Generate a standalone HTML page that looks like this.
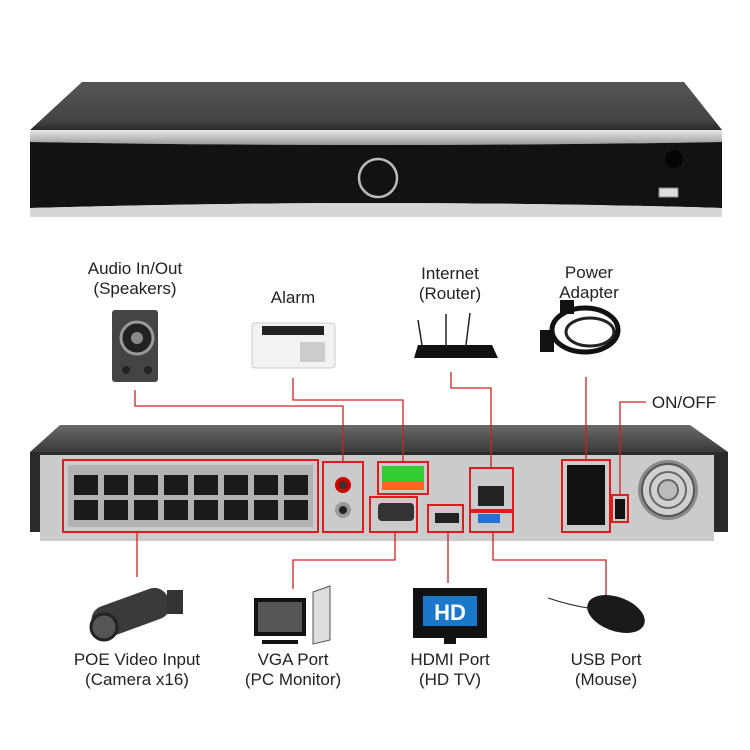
<!DOCTYPE html>
<html><head><style>
html,body{margin:0;padding:0;background:#fff;}
svg{display:block;}
text{font-family:"Liberation Sans",sans-serif;font-size:17px;fill:#222;text-anchor:middle;}
</style></head><body>
<svg width="750" height="750" viewBox="0 0 750 750" xmlns="http://www.w3.org/2000/svg">
<defs>
<linearGradient id="top" x1="0" y1="0" x2="0" y2="1"><stop offset="0" stop-color="#555"/><stop offset="0.8" stop-color="#444"/><stop offset="1" stop-color="#2a2a2a"/></linearGradient>
<linearGradient id="sil" x1="0" y1="0" x2="0" y2="1"><stop offset="0" stop-color="#e8e8e8"/><stop offset="1" stop-color="#9a9a9a"/></linearGradient>
<linearGradient id="btop" x1="0" y1="0" x2="0" y2="1"><stop offset="0" stop-color="#6a6a6a"/><stop offset="1" stop-color="#3a3a3a"/></linearGradient>
</defs>
<!-- Front NVR -->
<polygon points="82,82 684,82 722,130 30,130" fill="url(#top)"/>
<path d="M30,130 L722,130 L722,142 Q376,148 30,142 Z" fill="url(#sil)"/>
<path d="M30,142 Q376,148 722,142 L722,208 Q376,198 30,208 Z" fill="#121212"/>
<path d="M30,208 Q376,198 722,208 L722,217 L30,217 Z" fill="#d6d6d6"/>
<circle cx="378" cy="178" r="19" fill="none" stroke="#bbb" stroke-width="2.5"/>
<circle cx="674" cy="159" r="9" fill="#050505"/>
<rect x="659" y="188" width="19" height="9" fill="#ddd" stroke="#888"/>
<!-- Back NVR -->
<polygon points="60,425 690,425 728,452 30,452" fill="url(#btop)"/>
<rect x="30" y="452" width="698" height="80" fill="#2a2a2a"/>
<rect x="40" y="455" width="674" height="86" fill="#c9cbcd"/>
<rect x="68" y="465" width="245" height="62" fill="#b0b2b4"/>
<g fill="#1a1a1a">
<rect x="74" y="475" width="24" height="20"/><rect x="104" y="475" width="24" height="20"/><rect x="134" y="475" width="24" height="20"/><rect x="164" y="475" width="24" height="20"/><rect x="194" y="475" width="24" height="20"/><rect x="224" y="475" width="24" height="20"/><rect x="254" y="475" width="24" height="20"/><rect x="284" y="475" width="24" height="20"/>
<rect x="74" y="500" width="24" height="20"/><rect x="104" y="500" width="24" height="20"/><rect x="134" y="500" width="24" height="20"/><rect x="164" y="500" width="24" height="20"/><rect x="194" y="500" width="24" height="20"/><rect x="224" y="500" width="24" height="20"/><rect x="254" y="500" width="24" height="20"/><rect x="284" y="500" width="24" height="20"/>
</g>
<circle cx="343" cy="485" r="8" fill="#c00"/><circle cx="343" cy="485" r="4" fill="#333"/>
<circle cx="343" cy="510" r="8" fill="#999"/><circle cx="343" cy="510" r="4" fill="#222"/>
<rect x="382" y="466" width="42" height="16" fill="#3c3"/><rect x="382" y="482" width="42" height="8" fill="#f62"/>
<rect x="378" y="503" width="36" height="18" rx="4" fill="#333"/>
<rect x="435" y="513" width="24" height="10" fill="#222"/>
<rect x="478" y="486" width="26" height="20" fill="#222"/>
<rect x="478" y="514" width="22" height="9" fill="#2a6fd6"/>
<rect x="567" y="465" width="38" height="60" fill="#111"/>
<rect x="615" y="499" width="10" height="20" fill="#111"/>
<circle cx="668" cy="490" r="30" fill="#8a8a8a"/>
<circle cx="668" cy="490" r="26" fill="#d0d0d0" stroke="#555" stroke-width="2"/>
<circle cx="668" cy="490" r="18" fill="none" stroke="#666" stroke-width="2"/>
<circle cx="668" cy="490" r="10" fill="#bbb" stroke="#666" stroke-width="2"/>
<g fill="none" stroke="#e01b1b" stroke-width="2">
<rect x="63" y="460" width="255" height="72"/>
<rect x="323" y="462" width="40" height="70"/>
<rect x="378" y="462" width="50" height="32"/>
<rect x="370" y="497" width="47" height="35"/>
<rect x="428" y="505" width="35" height="27"/>
<rect x="470" y="468" width="43" height="42"/>
<rect x="470" y="512" width="43" height="20"/>
<rect x="562" y="460" width="48" height="72"/>
<rect x="612" y="495" width="16" height="27"/>
</g>
<!-- connectors -->
<g fill="none" stroke="#d02020" stroke-width="1.3">
<polyline points="135,390 135,406 343,406 343,462"/>
<polyline points="293,378 293,400 403,400 403,462"/>
<polyline points="451,372 451,388 491,388 491,468"/>
<polyline points="586,377 586,460"/>
<polyline points="646,402 620,402 620,495"/>
<polyline points="137,532 137,577"/>
<polyline points="395,532 395,560 293,560 293,589"/>
<polyline points="448,532 448,583"/>
<polyline points="493,532 493,560 606,560 606,595"/>
</g>
<!-- icons top -->
<rect x="112" y="310" width="46" height="72" rx="3" fill="#444"/>
<circle cx="137" cy="338" r="16" fill="#222" stroke="#999" stroke-width="3"/>
<circle cx="137" cy="338" r="6" fill="#888"/>
<circle cx="126" cy="370" r="4" fill="#222"/><circle cx="148" cy="370" r="4" fill="#222"/>
<rect x="252" y="323" width="83" height="45" rx="3" fill="#f2f2f2" stroke="#ccc"/>
<rect x="262" y="326" width="62" height="9" fill="#222"/>
<g fill="#ccc"><rect x="300" y="342" width="25" height="20"/></g>
<g stroke="#222" stroke-width="1.5"><line x1="418" y1="320" x2="422" y2="345"/><line x1="446" y1="314" x2="446" y2="345"/><line x1="470" y1="313" x2="466" y2="345"/></g>
<polygon points="418,345 492,345 498,358 414,358" fill="#111"/>
<ellipse cx="585" cy="330" rx="33" ry="22" fill="none" stroke="#111" stroke-width="5"/>
<ellipse cx="590" cy="332" rx="24" ry="14" fill="none" stroke="#222" stroke-width="3"/>
<rect x="540" y="330" width="14" height="22" fill="#111"/>
<rect x="560" y="300" width="14" height="14" fill="#111"/>
<!-- icons bottom -->
<g transform="rotate(-20 135 610)"><rect x="90" y="595" width="80" height="32" rx="14" fill="#3a3a3a"/></g>
<circle cx="104" cy="627" r="13" fill="#555" stroke="#222" stroke-width="3"/>
<rect x="167" y="590" width="16" height="24" fill="#333"/>
<rect x="254" y="598" width="52" height="38" fill="#111"/><rect x="258" y="602" width="44" height="30" fill="#555"/>
<rect x="262" y="640" width="36" height="4" fill="#111"/>
<polygon points="313,592 330,586 330,640 313,644" fill="#ddd" stroke="#555"/>
<rect x="413" y="588" width="74" height="50" fill="#111"/>
<rect x="423" y="596" width="54" height="30" fill="#1b78c8"/>
<text x="450" y="620" style="font-size:22px;font-weight:bold;fill:#fff">HD</text>
<rect x="444" y="638" width="12" height="6" fill="#111"/>
<path d="M548,598 C560,602 575,606 588,608" stroke="#222" fill="none"/>
<ellipse cx="616" cy="614" rx="30" ry="17" transform="rotate(20 616 614)" fill="#1a1a1a"/>
<!-- labels -->
<text x="135" y="274">Audio In/Out</text>
<text x="135" y="294">(Speakers)</text>
<text x="293" y="303">Alarm</text>
<text x="450" y="279">Internet</text>
<text x="450" y="299">(Router)</text>
<text x="589" y="278">Power</text>
<text x="589" y="298">Adapter</text>
<text x="684" y="408">ON/OFF</text>
<text x="137" y="665">POE Video Input</text>
<text x="137" y="685">(Camera x16)</text>
<text x="293" y="665">VGA Port</text>
<text x="293" y="685">(PC Monitor)</text>
<text x="450" y="665">HDMI Port</text>
<text x="450" y="685">(HD TV)</text>
<text x="606" y="665">USB Port</text>
<text x="606" y="685">(Mouse)</text>
</svg>
</body></html>
